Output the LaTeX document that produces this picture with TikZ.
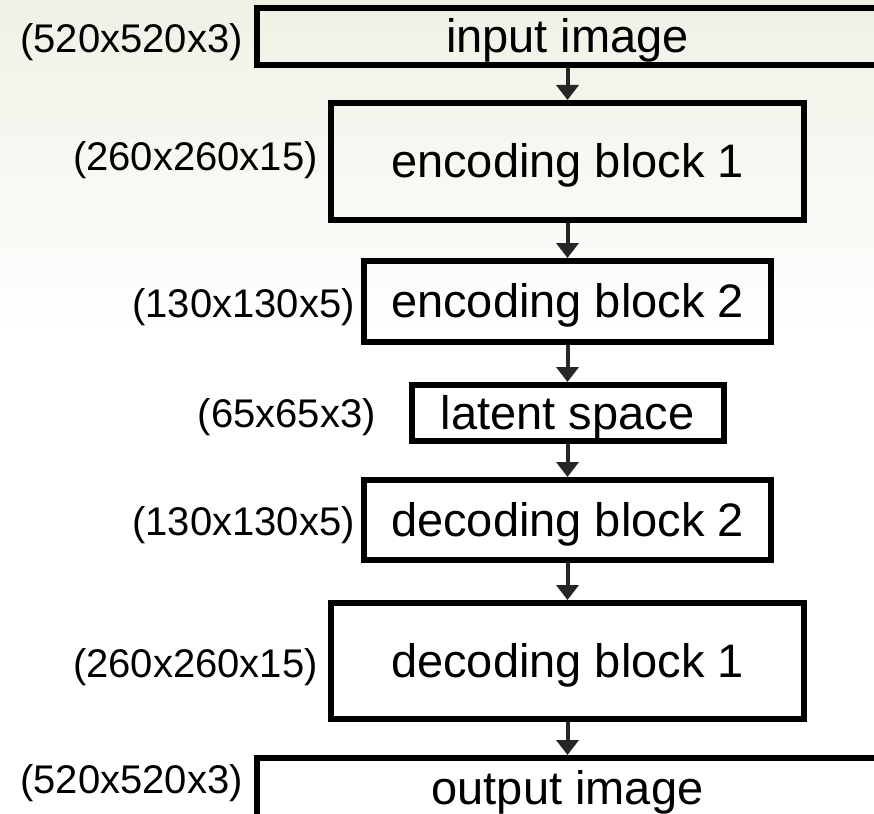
\documentclass[tikz,border=0pt]{standalone}
\usepackage{fontspec}
\setmainfont{Liberation Sans}
\usetikzlibrary{arrows.meta}
\definecolor{bgtop}{RGB}{238,242,229}
\definecolor{arrowc}{RGB}{38,38,38}
\tikzset{
  blockbox/.style={draw=black, line width=6pt, inner sep=0pt, align=center,
    text height=34pt, text depth=2pt,
    font=\fontsize{47}{52}\selectfont},
  sizelabel/.style={anchor=base east, inner sep=0pt,
    font=\fontsize{40}{46}\selectfont},
  flowarrow/.style={draw=arrowc, line width=4pt,
    -{Triangle[width=22pt,length=15pt]}}
}
\begin{document}
\begin{tikzpicture}[x=1pt,y=-1pt]
\useasboundingbox (0,0) rectangle (874,813);
\clip (0,0) rectangle (874,813);
\shade[top color=bgtop, bottom color=white] (0,0) rectangle (874,340);

\node[blockbox, minimum width=621pt, minimum height=57pt] (in) at (567.5,36.5) {input image};
\node[blockbox, minimum width=473pt, minimum height=117pt] (e1) at (567.5,161.5) {encoding block 1};
\node[blockbox, minimum width=407pt, minimum height=81pt] (e2) at (567.5,301.5) {encoding block 2};
\node[blockbox, minimum width=312pt, minimum height=56pt] (ls) at (567.5,413) {latent space};
\node[blockbox, minimum width=407pt, minimum height=80pt] (d2) at (567.5,520) {decoding block 2};
\node[blockbox, minimum width=473pt, minimum height=116pt] (d1) at (567.5,661) {decoding block 1};
\node[blockbox, minimum width=621pt, minimum height=60pt] (out) at (567.5,788) {output image};

\node[sizelabel] (lin) at (243,53) {(520x520x3)};
\node[sizelabel] (le1) at (318,170) {(260x260x15)};
\node[sizelabel] (le2) at (355,317) {(130x130x5)};
\node[sizelabel] (lls) at (376,427) {(65x65x3)};
\node[sizelabel] (ld2) at (355,535) {(130x130x5)};
\node[sizelabel] (ld1) at (318,677) {(260x260x15)};
\node[sizelabel] (lout) at (243,793) {(520x520x3)};

\draw[flowarrow] (in.south) -- (e1.north);
\draw[flowarrow] (e1.south) -- (e2.north);
\draw[flowarrow] (e2.south) -- (ls.north);
\draw[flowarrow] (ls.south) -- (d2.north);
\draw[flowarrow] (d2.south) -- (d1.north);
\draw[flowarrow] (d1.south) -- (out.north);
\end{tikzpicture}
\end{document}
